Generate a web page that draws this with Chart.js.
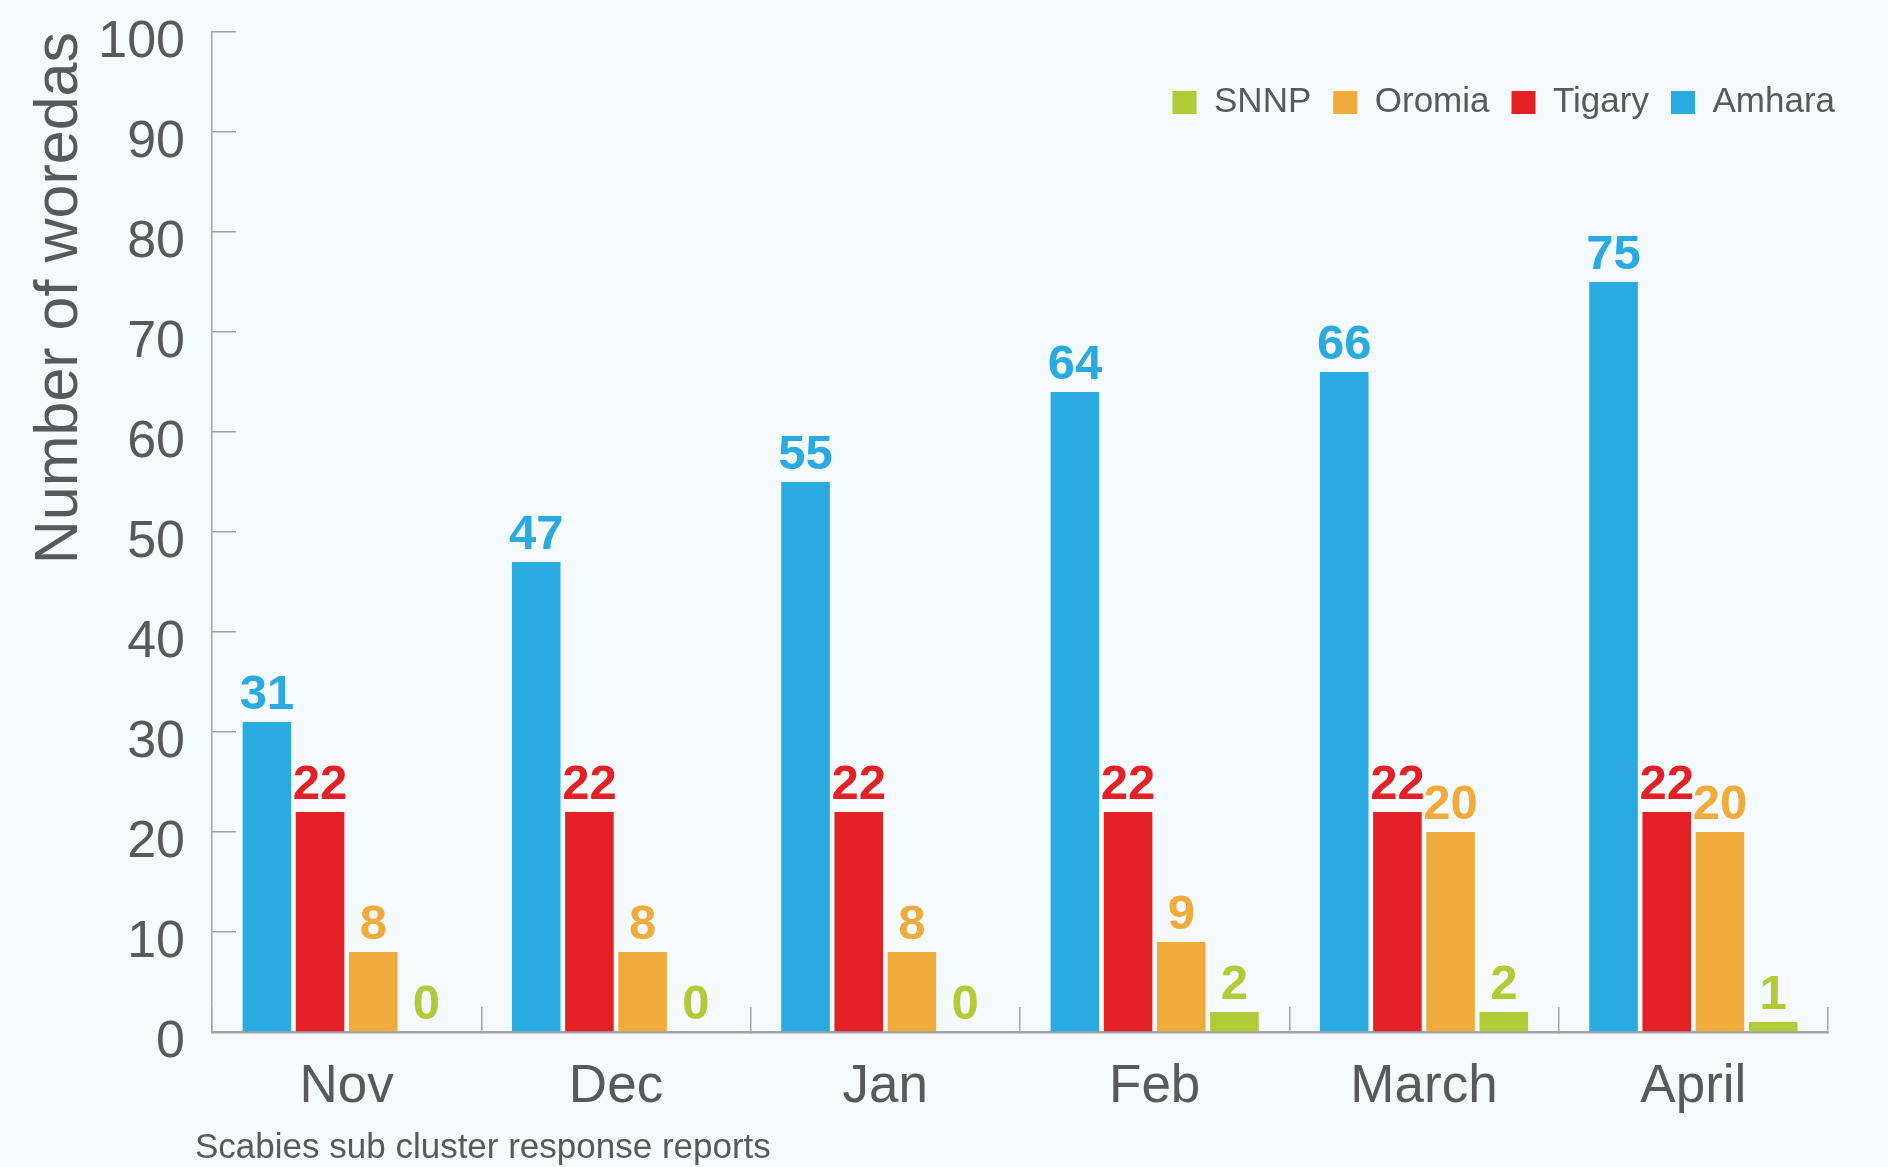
<!DOCTYPE html>
<html>
<head>
<meta charset="utf-8">
<title>Scabies sub cluster response reports</title>
<script src="https://cdn.jsdelivr.net/npm/chart.js@4.4.1/dist/chart.umd.min.js"></script>
<style>
    html, body { margin: 0; padding: 0; background: #f5fafd; }
    #wrap { width: 1888px; height: 1167px; position: relative; }
</style>
</head>
<body>
<div id="wrap"><canvas id="woredaChart"></canvas></div>
<script>
// Data
const months = ['Nov', 'Dec', 'Jan', 'Feb', 'March', 'April'];
const amhara = [31, 47, 55, 64, 66, 75];
const tigary = [22, 22, 22, 22, 22, 22];
const oromia = [8, 8, 8, 9, 20, 20];
const snnp = [0, 0, 0, 2, 2, 1];

const yTitle = 'Number of woredas';
const caption = 'Scabies sub cluster response reports';

const inkGrey = '#58595b';
const axisGrey = '#a2a4a7';
const fontFamily = '"Liberation Sans", Arial, Helvetica, sans-serif';

Chart.defaults.font.family = fontFamily;
Chart.defaults.color = inkGrey;

// Legend sits inside the plot (top right) without pushing the plot down
const legendInside = {
    id: 'legendInside',
    beforeLayout(chart) {
        const lg = chart.legend;
        if (lg && !lg._flat) {
            const fit = lg.fit;
            lg.fit = function () {
                fit.call(this);
                this._realHeight = this.height;
                this.height = 0;
            };
            lg._flat = true;
        }
    },
    afterLayout(chart) {
        const lg = chart.legend;
        if (!lg) return;
        lg.top = chart.chartArea.top + 31;
        lg.bottom = lg.top + (lg._realHeight || 80);
        lg.right = chart.chartArea.right + 29;
    }
};

// Value labels above each bar + caption under the axis
const valueTags = {
    id: 'valueTags',
    afterDatasetsDraw(chart) {
        const ctx = chart.ctx;
        ctx.save();
        ctx.font = 'bold 49px ' + fontFamily;
        ctx.textAlign = 'center';
        ctx.textBaseline = 'alphabetic';
        chart.data.datasets.forEach(function (ds, i) {
            const meta = chart.getDatasetMeta(i);
            ctx.fillStyle = ds.backgroundColor;
            meta.data.forEach(function (bar, j) {
                ctx.fillText(String(ds.data[j]), bar.x, bar.y - 13);
            });
        });

        ctx.font = '35px ' + fontFamily;
        ctx.fillStyle = inkGrey;
        ctx.textAlign = 'left';
        ctx.fillText(caption, chart.chartArea.left - 17, chart.chartArea.bottom + 126);
        ctx.restore();
    }
};

function makeBars(label, data, color) {
    return {
        label: label,
        data: data,
        backgroundColor: color,
        borderWidth: 0,
        categoryPercentage: 0.79,
        barPercentage: 0.913
    };
}

const chart = new Chart(document.getElementById('woredaChart'), {
    type: 'bar',
    data: {
        labels: months,
        datasets: [
            makeBars('Amhara', amhara, '#29abe2'),
            makeBars('Tigary', tigary, '#e32026'),
            makeBars('Oromia', oromia, '#f0ab3a'),
            makeBars('SNNP', snnp, '#b0cb36')
        ]
    },
    options: {
        responsive: true,
        maintainAspectRatio: false,
        animation: false,
        layout: {
            padding: { top: 32, right: 60, bottom: 0, left: 0 }
        },
        plugins: {
            legend: {
                display: true,
                position: 'top',
                align: 'end',
                reverse: true,
                labels: {
                    boxWidth: 24,
                    boxHeight: 23,
                    padding: 22,
                    color: inkGrey,
                    font: { size: 35 }
                }
            },
            tooltip: { enabled: false },
            title: { display: false }
        },
        scales: {
            x: {
                ticks: {
                    color: inkGrey,
                    font: { size: 53 },
                    padding: 49
                },
                grid: {
                    drawOnChartArea: false,
                    offset: true,
                    tickLength: -25,
                    color: axisGrey,
                    lineWidth: 1.5
                },
                border: { color: axisGrey, width: 2.5 },
                afterFit: function (scale) {
                    scale.height = 135;
                }
            },
            y: {
                min: 0,
                max: 100,
                ticks: {
                    stepSize: 10,
                    color: inkGrey,
                    font: { size: 52 },
                    padding: 51,
                    labelOffset: 11
                },
                grid: {
                    drawOnChartArea: false,
                    tickLength: -24,
                    color: axisGrey,
                    lineWidth: 1.5
                },
                border: { color: axisGrey, width: 1.5 },
                title: {
                    display: true,
                    text: yTitle,
                    align: 'end',
                    color: inkGrey,
                    font: { size: 61 },
                    padding: { top: 24, bottom: 0 }
                },
                afterFit: function (scale) {
                    scale.width = 212;
                    scale.paddingTop = 0;
                    scale.paddingBottom = 0;
                }
            }
        }
    },
    plugins: [legendInside, valueTags]
});
</script>
</body>
</html>
